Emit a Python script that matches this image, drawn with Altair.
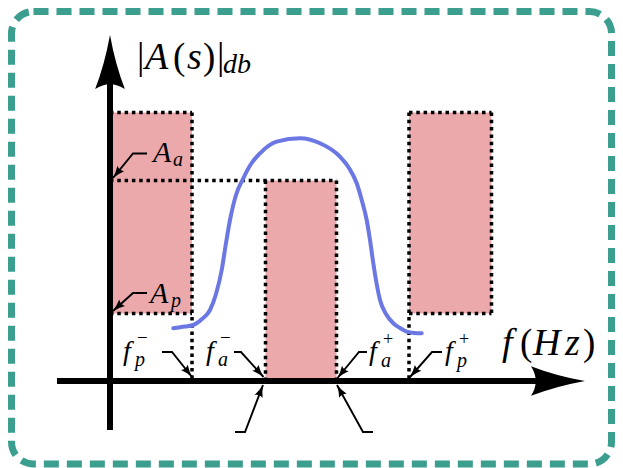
import math
import altair as alt
import pandas as pd

# ---------------- layout of the drawing area ----------------
W, H = 607, 460
PX = 10.0                 # pixels per unit on both axes
X0, Y0 = 102.0, 373.0     # where (0, 0) sits inside the chart
xs = alt.Scale(domain=[-X0 / PX, (W - X0) / PX], range=[0, W], nice=False, zero=False)
ys = alt.Scale(domain=[(Y0 - H) / PX, Y0 / PX], range=[H, 0], nice=False, zero=False)

# ---------------- data (frequency units / dB units) ----------------
f_p_minus, f_a_minus, f_a_plus, f_p_plus, f_hi = 8.2, 15.55, 22.65, 29.9, 38.15
A_p, A_a, A_top = 6.75, 20.05, 26.85

# shaded forbidden regions
rect_x1 = [0.0, f_a_minus, f_p_plus]
rect_x2 = [f_p_minus, f_a_plus, f_hi]
rect_y1 = [A_p, 0.0, A_p]
rect_y2 = [A_top, A_a, A_top]

# dotted outline segments
dot_x1 = [0.0, f_p_minus, 0.0, 0.0, f_a_minus, f_a_plus, f_p_plus, f_hi, f_p_plus, f_p_plus]
dot_x2 = [f_p_minus, f_p_minus, f_p_minus, f_a_plus, f_a_minus, f_a_plus, f_hi, f_hi, f_hi, f_p_plus]
dot_y1 = [A_top, A_top, A_p, A_a, A_a, A_a, A_top, A_top, A_p, A_top]
dot_y2 = [A_top, 0.0, A_p, A_a, 0.0, 0.0, A_top, A_p, A_p, 0.0]

# filter response |A(s)|
curve_f = [6.33, 7.5, 8.33, 9.2, 10.0, 10.6, 11.17, 11.6, 12.0, 12.6, 13.33, 14.1, 15.0,
           16.67, 19.0, 21.0, 23.0, 23.9, 24.67, 25.2, 25.67, 26.0, 26.33, 26.65, 27.0,
           27.6, 28.33, 29.0, 29.67, 30.4, 31.17]
curve_a = [5.27, 5.45, 5.6, 6.2, 7.1, 8.7, 11.1, 13.8, 16.1, 18.6, 20.27, 21.7, 22.77,
           23.93, 24.27, 23.77, 22.43, 21.3, 19.77, 18.0, 16.1, 14.1, 11.77, 9.8, 8.1,
           6.7, 5.77, 5.3, 4.93, 4.8, 4.77]

# axes
haxis_f = [-5.3, 44.5]
vaxis_a = [-4.9, 31.5]
arrow_tip_f = [0.0, 47.5]
arrow_tip_a = [34.6, 0.0]
arrow_angle = [0, 90]

# leader arrows: three points each (label end, bend, tip)
leader_id = ["Aa", "Ap", "fpm", "fam", "fap", "fpp", "bl", "br"]
leader_f = [[3.7, 2.3, 0.3], [3.7, 2.3, 0.3], [5.2, 6.2, 8.2], [12.4, 13.1, 15.35],
            [25.7, 24.9, 22.75], [33.2, 32.2, 30.0], [12.5, 13.5, 15.3], [26.3, 25.3, 22.7]]
leader_a = [[22.75, 22.75, 20.3], [8.8, 8.8, 7.0], [2.9, 2.9, 0.4], [2.9, 2.9, 0.4],
            [2.9, 2.9, 0.3], [2.9, 2.9, 0.4], [-5.1, -5.1, -0.4], [-5.1, -5.1, -0.4]]

# text pieces: (text, f, a, font size, italic?)
txt_text = ["|", "A", "(", "s", ")", "|", "db",
            "f", "(", "H", "z", ")",
            "A", "a", "A", "p",
            "f", "p", "\u2212", "f", "a", "\u2212",
            "f", "a", "+", "f", "p", "+"]
txt_f = [2.7, 3.5, 6.3, 7.7, 9.3, 10.7, 11.3,
         39.2, 41.0, 42.3, 45.5, 47.3,
         4.3, 6.3, 4.0, 6.1,
         1.3, 2.5, 2.7, 9.6, 10.8, 11.0,
         25.9, 27.1, 27.3, 33.5, 34.7, 34.9]
txt_a = [31.2, 31.2, 31.2, 31.2, 31.2, 31.2, 30.8,
         2.6, 2.6, 2.6, 2.6, 2.6,
         21.9, 21.5, 7.8, 7.4,
         2.1, 1.5, 3.7, 2.1, 1.5, 3.7,
         2.1, 1.4, 3.6, 2.1, 1.4, 3.6]
txt_size = [37, 38, 37, 38, 37, 37, 28,
            38, 37, 38, 38, 37,
            30, 20, 30, 20,
            28, 20, 19, 28, 20, 19,
            28, 20, 18, 28, 20, 18]
txt_italic = [False, True, False, True, False, False, True,
              True, False, True, True, False,
              True, True, True, True,
              True, True, False, True, True, False,
              True, True, False, True, True, False]

# ---------------- styles ----------------
PINK = "#EBA9AB"
BLUE = "#6B77E3"
TEAL = "#3B9E8E"
FONT = "Liberation Serif"
HEAD = "M0,0 Q0.2,1.1 0.55,2 Q0,1.65 -0.55,2 Q-0.2,1.1 0,0 Z"
HEAD_S = "M0,0 Q0.25,1.1 0.7,2 Q0,1.6 -0.7,2 Q-0.25,1.1 0,0 Z"

# ---------------- tables ----------------
rects = pd.DataFrame({"x": rect_x1, "x2": rect_x2, "y": rect_y1, "y2": rect_y2})
dots = pd.DataFrame({"x": dot_x1, "x2": dot_x2, "y": dot_y1, "y2": dot_y2})
curve = pd.DataFrame({"f": curve_f, "a": curve_a})
haxis = pd.DataFrame({"x": [haxis_f[0]], "x2": [haxis_f[1]], "y": [0.0]})
vaxis = pd.DataFrame({"x": [0.0], "y": [vaxis_a[0]], "y2": [vaxis_a[1]]})
heads = pd.DataFrame({"f": arrow_tip_f, "a": arrow_tip_a, "ang": arrow_angle})

rows, tips = [], []
for lid, fs, as_ in zip(leader_id, leader_f, leader_a):
    for k, (f, a) in enumerate(zip(fs, as_)):
        rows.append({"id": lid, "k": k, "f": f, "a": a})
    dx = (fs[2] - fs[1]) * PX
    dy = -(as_[2] - as_[1]) * PX
    ang = math.degrees(math.atan2(dx, -dy)) % 360
    tips.append({"f": fs[2], "a": as_[2], "ang": ang})
leaders = pd.DataFrame(rows)
ltips = pd.DataFrame(tips)
texts = pd.DataFrame({"t": txt_text, "f": txt_f, "a": txt_a, "s": txt_size, "it": txt_italic})

X = lambda c: alt.X(c, type="quantitative", scale=xs, axis=None)
Y = lambda c: alt.Y(c, type="quantitative", scale=ys, axis=None)

frame = alt.Chart(pd.DataFrame({"k": [0]})).mark_rect(
    fillOpacity=0, stroke=TEAL, strokeWidth=7, strokeDash=[15, 8], cornerRadius=22
).encode(x=alt.value(3.5), x2=alt.value(W - 3.5), y=alt.value(3.5), y2=alt.value(H - 4))

pink = alt.Chart(rects).mark_rect(color=PINK).encode(
    x=X("x"), x2="x2", y=Y("y"), y2="y2")

dotted = alt.Chart(dots).mark_rule(
    color="black", strokeWidth=3.5, strokeDash=[3.5, 3.8], strokeCap="butt"
).encode(x=X("x"), x2="x2", y=Y("y"), y2="y2")

resp = alt.Chart(curve).mark_line(
    color=BLUE, strokeWidth=4, interpolate="monotone", strokeCap="round"
).encode(x=X("f"), y=Y("a"))

hax = alt.Chart(haxis).mark_rule(color="black", strokeWidth=6, strokeCap="butt").encode(
    x=X("x"), x2="x2", y=Y("y"))
vax = alt.Chart(vaxis).mark_rule(color="black", strokeWidth=6, strokeCap="butt").encode(
    x=X("x"), y=Y("y"), y2="y2")
bigheads = alt.Chart(heads).mark_point(
    shape=HEAD, filled=True, color="black", opacity=1, size=2916, strokeWidth=0
).encode(x=X("f"), y=Y("a"), angle=alt.Angle("ang", type="quantitative", scale=None))

lead = alt.Chart(leaders).mark_line(color="black", strokeWidth=1.9).encode(
    x=X("f"), y=Y("a"), detail="id:N", order="k:Q")
leadheads = alt.Chart(ltips).mark_point(
    shape=HEAD_S, filled=True, color="black", opacity=1, size=150, strokeWidth=0
).encode(x=X("f"), y=Y("a"), angle=alt.Angle("ang", type="quantitative", scale=None))

txt_it = alt.Chart(texts).transform_filter("datum.it").mark_text(
    font=FONT, fontStyle="italic", align="left", baseline="alphabetic", color="black"
).encode(x=X("f"), y=Y("a"), text="t:N", size=alt.Size("s", type="quantitative", scale=None))
txt_up = alt.Chart(texts).transform_filter("!datum.it").mark_text(
    font=FONT, align="left", baseline="alphabetic", color="black"
).encode(x=X("f"), y=Y("a"), text="t:N", size=alt.Size("s", type="quantitative", scale=None))

chart = alt.layer(
    pink, dotted, resp, hax, vax, bigheads, lead, leadheads, txt_it, txt_up, frame
).properties(width=W, height=H, padding=0, autosize=alt.AutoSizeParams(type="none")
).configure_view(stroke=None)

chart.save("out.html", embed_options={"renderer": "svg", "actions": False})
